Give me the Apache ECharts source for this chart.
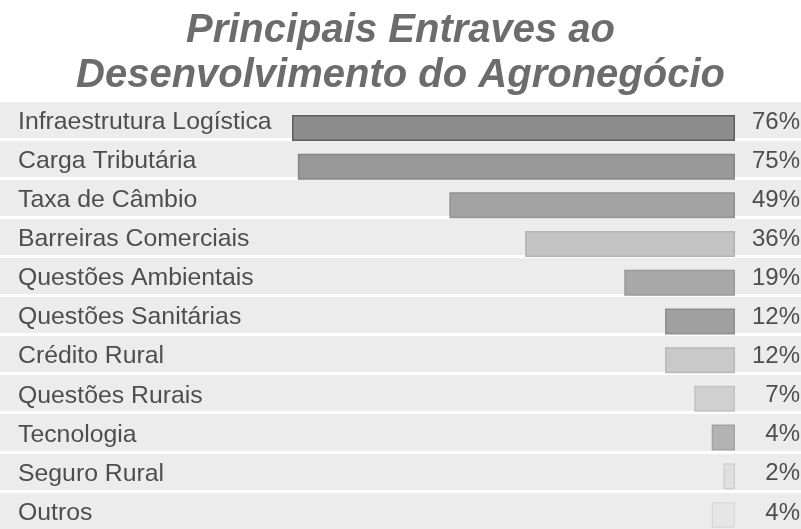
<!DOCTYPE html>
<html>
<head>
<meta charset="utf-8">
<script src="https://cdn.jsdelivr.net/npm/echarts@6/dist/echarts.min.js"></script>
<style>html,body{margin:0;padding:0;background:#fff}#c{width:801px;height:529px}</style>
</head>
<body>
<div id="c"></div>
<script>
const titleLines = ['Principais Entraves ao', 'Desenvolvimento do Agronegócio'];
const categories = ['Infraestrutura Logística','Carga Tributária','Taxa de Câmbio','Barreiras Comerciais','Questões Ambientais','Questões Sanitárias','Crédito Rural','Questões Rurais','Tecnologia','Seguro Rural','Outros'];
const values = [76, 75, 49, 36, 19, 12, 12, 7, 4, 2, 4];
const barColors = ['#8c8c8c','#999999','#a3a3a3','#c4c4c4','#a8a8a8','#a0a0a0','#c9c9c9','#d0d0d0','#b3b3b3','#e0e0e0','#e6e6e6'];
const borderColors = ['#5e5e5e','#858585','#8f8f8f','#b2b2b2','#999999','#8f8f8f','#b8b8b8','#c2c2c2','#a3a3a3','#cfcfcf','#dadada'];

const pctLabels = values.map(v => v + '%');
const chart = echarts.init(document.getElementById('c'));
const font = '"Liberation Sans", Arial, sans-serif';
chart.setOption({
  backgroundColor: '#ffffff',
  animation: false,
  title: {
    text: titleLines.join('\n'),
    left: 'center',
    top: 3,
    textStyle: {fontFamily: font, fontSize: 40, fontStyle: 'italic', fontWeight: 'bold', color: '#6c6c6c', lineHeight: 45}
  },
  grid: [
    {left: 0, right: 0, top: 100, height: 430, show: true, backgroundColor: '#ececec', borderWidth: 0, containLabel: false, outerBoundsMode: 'none'},
    {left: 292, right: 66, top: 108.6, height: 425.7, containLabel: false, outerBoundsMode: 'none'}
  ],
  xAxis: [
    {gridIndex: 0, type: 'value', show: false, min: 0, max: 1},
    {gridIndex: 1, type: 'value', show: false, min: 0, max: 76, inverse: true}
  ],
  yAxis: [
    {gridIndex: 0, type: 'category', data: categories, inverse: true,
     axisLine: {show: false}, axisTick: {show: false},
     splitLine: {show: true, lineStyle: {color: '#ffffff', width: 3}},
     axisLabel: {inside: true, margin: 18, color: '#4e4e4e', fontSize: 24.8, fontFamily: font, verticalAlign: 'top', lineHeight: 5}},
    {gridIndex: 0, type: 'category', data: pctLabels, inverse: true, position: 'right',
     axisLine: {show: false}, axisTick: {show: false}, splitLine: {show: false},
     axisLabel: {align: 'right', margin: -1, color: '#4e4e4e', fontSize: 24, fontFamily: font, verticalAlign: 'top', lineHeight: 5}},
    {gridIndex: 1, type: 'category', data: categories, inverse: true, show: false}
  ],
  series: [{
    type: 'bar',
    xAxisIndex: 1, yAxisIndex: 2,
    barWidth: 26,
    data: values.map((v, i) => ({value: v, itemStyle: {color: barColors[i], borderColor: borderColors[i], borderWidth: 1.5}})),
    silent: true
  }]
});
</script>
</body>
</html>
